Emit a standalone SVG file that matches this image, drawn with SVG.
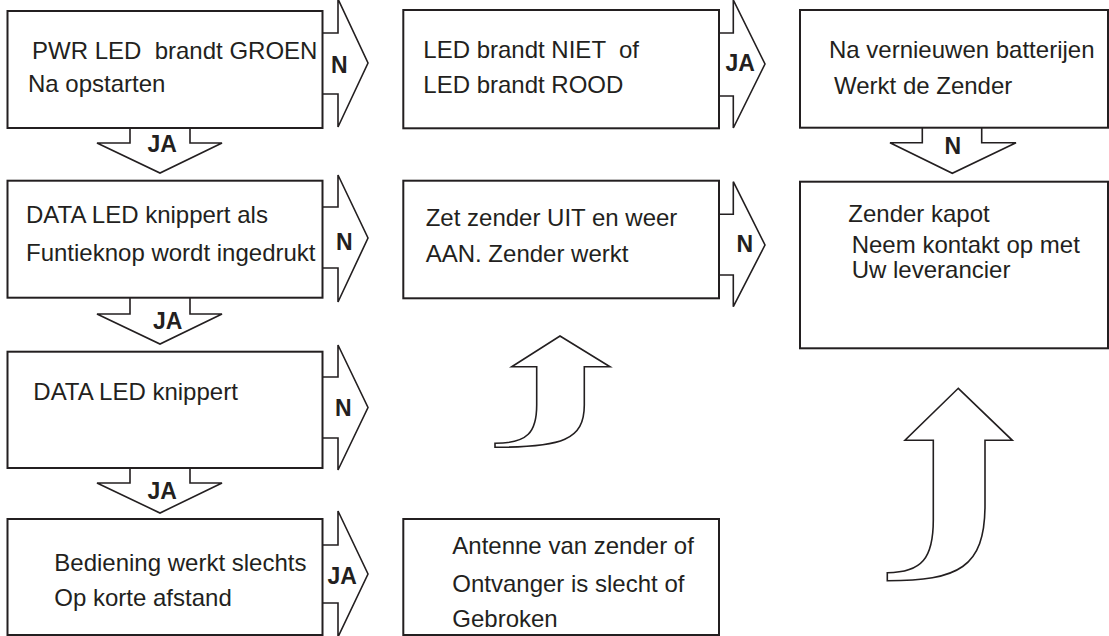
<svg xmlns="http://www.w3.org/2000/svg" width="1109" height="636" viewBox="0 0 1109 636">
<style>
.box{fill:#fff;stroke:#231f20;stroke-width:2}
.arr{fill:#fff;stroke:#231f20;stroke-width:1.6;stroke-linejoin:miter}
.t{font-family:"Liberation Sans",Arial,sans-serif;font-size:24px;fill:#231f20}
.l{font-family:"Liberation Sans",Arial,sans-serif;font-size:23px;font-weight:bold;fill:#231f20}
</style>
<rect width="1109" height="636" fill="#fff"/>
<g id="connectors">
<path class="arr" d="M322.5 33 L338 33 L338 -1 L368 63 L338 127 L338 94 L322.5 94"/>
<path class="arr" d="M322.5 207 L338 207 L338 175 L368 238 L338 302 L338 268 L322.5 268"/>
<path class="arr" d="M322.5 377 L338 377 L338 345 L368 407.5 L338 470 L338 438 L322.5 438"/>
<path class="arr" d="M322.5 545 L338 545 L338 511 L368 574 L338 637 L338 603 L322.5 603"/>
<path class="arr" d="M719 33 L733.3 33 L733.3 0 L765 64 L733.3 128 L733.3 96 L719 96"/>
<path class="arr" d="M719 214.3 L733.3 214.3 L733.3 181.7 L765 245 L733.3 306.7 L733.3 275 L719 275"/>
<path class="arr" d="M130 128 L130 143 L97 143 L160 173 L222 143 L190 143 L190 128"/>
<path class="arr" d="M130 297.7 L130 314 L97 314 L160 344 L222 314 L190 314 L190 297.7"/>
<path class="arr" d="M130 468 L130 483 L97 483 L160 513 L222 483 L190 483 L190 468"/>
<path class="arr" d="M922.3 127.7 L922.3 142.7 L890 142.7 L952.3 173.3 L1016 142.7 L981.7 142.7 L981.7 127.7"/>
<path class="arr" d="M560 336 L610 366.7 L584.3 366.7 L584.3 405 C584.3 440 562 447.3 495 447.3 L495 443.3 C528 443.3 536.7 432 536.7 405 L536.7 366.7 L511.7 366.7 Z"/>
<path class="arr" d="M958.3 388.3 L1012.3 440.3 L985 440.3 L985 505 C985 568 958 580.7 887.3 580.7 L887.3 572.7 C922 572.7 933.3 558 933.3 520 L933.3 440.3 L905 440.3 Z"/>
<text class="l" x="331" y="72.5">N</text>
<text class="l" x="336" y="250">N</text>
<text class="l" x="335" y="415.5">N</text>
<text class="l" x="327.5" y="584">JA</text>
<text class="l" x="725.5" y="71">JA</text>
<text class="l" x="736.5" y="251.5">N</text>
<text class="l" x="147.5" y="151.5">JA</text>
<text class="l" x="153" y="328.5">JA</text>
<text class="l" x="147.5" y="498.5">JA</text>
<text class="l" x="944.5" y="154">N</text>
</g>
<g id="n1"><rect class="box" x="7.5" y="11" width="315" height="117"/>
<text class="t" x="32" y="59.3" xml:space="preserve">PWR LED  brandt GROEN</text>
<text class="t" x="28" y="91.7">Na opstarten</text></g>
<g id="n2"><rect class="box" x="7.5" y="180.7" width="315" height="117"/>
<text class="t" x="26" y="223.3">DATA LED knippert als</text>
<text class="t" x="26" y="260.7">Funtieknop wordt ingedrukt</text></g>
<g id="n3"><rect class="box" x="7.5" y="351.7" width="315" height="116.3"/>
<text class="t" x="33.3" y="400">DATA LED knippert</text></g>
<g id="n4"><rect class="box" x="7.5" y="519" width="315" height="116"/>
<text class="t" x="54.3" y="571">Bediening werkt slechts</text>
<text class="t" x="54.3" y="606">Op korte afstand</text></g>
<g id="n5"><rect class="box" x="403.3" y="10" width="315.7" height="118.3"/>
<text class="t" x="423.3" y="58.3" xml:space="preserve">LED brandt NIET  of</text>
<text class="t" x="423.3" y="92.7">LED brandt ROOD</text></g>
<g id="n6"><rect class="box" x="403.3" y="180.7" width="315.7" height="117.6"/>
<text class="t" x="425.7" y="226">Zet zender UIT en weer</text>
<text class="t" x="425.7" y="261.7">AAN. Zender werkt</text></g>
<g id="n7"><rect class="box" x="403.3" y="519" width="315.7" height="116"/>
<text class="t" x="452.3" y="554.3">Antenne van zender of</text>
<text class="t" x="452.3" y="591.7">Ontvanger is slecht of</text>
<text class="t" x="452.3" y="627.3">Gebroken</text></g>
<g id="n8"><rect class="box" x="800" y="10" width="308" height="117.7"/>
<text class="t" x="829" y="58.3">Na vernieuwen batterijen</text>
<text class="t" x="834" y="94">Werkt de Zender</text></g>
<g id="n9"><rect class="box" x="800" y="181.7" width="308" height="166.6"/>
<text class="t" x="848.3" y="221.7">Zender kapot</text>
<text class="t" x="851.7" y="253.3">Neem kontakt op met</text>
<text class="t" x="851.7" y="278.3">Uw leverancier</text></g>
</svg>
